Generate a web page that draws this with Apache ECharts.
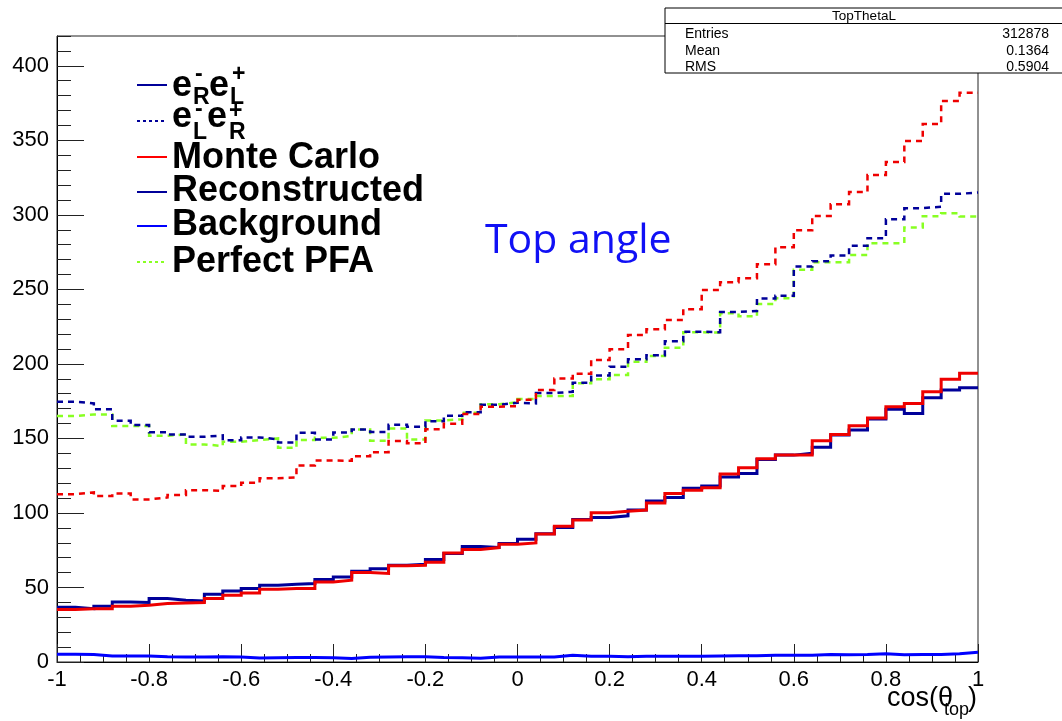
<!DOCTYPE html>
<html><head><meta charset="utf-8">
<script src="https://cdn.jsdelivr.net/npm/echarts@6/dist/echarts.min.js"></script>
<style>html,body{margin:0;padding:0;background:#fff}#c{width:1062px;height:721px}</style>
</head><body><div id="c"></div><script>
// bin left edges (50 bins of width 0.04 from -1 to 1)
const binLeft = [-1.00,-0.96,-0.92,-0.88,-0.84,-0.80,-0.76,-0.72,-0.68,-0.64,-0.60,-0.56,-0.52,-0.48,-0.44,-0.40,-0.36,-0.32,-0.28,-0.24,-0.20,-0.16,-0.12,-0.08,-0.04,0.00,0.04,0.08,0.12,0.16,0.20,0.24,0.28,0.32,0.36,0.40,0.44,0.48,0.52,0.56,0.60,0.64,0.68,0.72,0.76,0.80,0.84,0.88,0.92,0.96];
const xUpper = 1.0;
// e-_R e+_L : solid
const mcRL   = [35.2,35.8,35.8,37.4,38.1,39.2,39.6,39.9,42.6,44.8,46.3,48.8,49.3,49.3,53.7,54.9,60.0,59.4,64.5,64.9,67.0,73.2,75.5,76.8,79.0,79.9,85.8,91.1,95.2,100.1,101.2,101.9,106.6,113.1,115.3,116.9,126.1,130.3,136.3,138.8,138.8,148.4,152.7,158.5,163.7,171.3,173.5,181.3,189.7,193.7];
const recoRL = [36.7,35.8,37.4,40.3,39.9,42.6,41.4,41.0,45.5,47.7,49.3,51.5,52.2,52.6,55.3,57.1,60.9,62.5,64.9,65.6,68.8,72.8,77.5,76.8,79.5,82.4,86.0,90.3,95.6,97.0,98.1,101.9,108.1,110.4,116.5,118.0,124.2,126.5,135.9,138.8,140.0,144.0,152.3,155.6,163.0,169.5,166.8,177.3,182.5,184.0];
const bkgRL  = [5.2,5.0,4.0,4.0,4.0,3.5,3.4,3.4,3.5,3.3,2.7,2.8,3.0,3.0,2.8,2.3,3.2,3.3,3.5,3.5,3.0,2.8,2.5,3.3,3.3,3.3,3.3,4.5,3.8,3.8,3.6,3.8,3.8,3.8,3.9,4.0,4.2,4.2,4.5,4.5,4.5,5.0,4.8,5.0,5.5,4.8,5.0,5.0,5.6,6.5];
// e-_L e+_R : dashed
const mcLR   = [112.6,113.8,111.3,113.1,109.1,110.4,112.0,115.3,114.8,118.0,120.2,123.2,123.8,131.9,135.2,135.0,138.1,140.8,148.2,146.7,156.1,159.8,166.4,171.3,171.7,176.0,182.5,190.2,193.4,202.6,209.8,219.4,223.2,229.5,236.7,249.6,254.8,257.5,266.9,278.3,289.7,299.3,307.2,315.4,326.7,335.4,349.5,360.9,376.4,381.9];
const recoLR = [174.6,173.5,169.5,161.9,159.0,154.1,152.7,151.1,152.0,148.7,150.7,149.4,147.3,153.8,149.3,154.0,156.0,154.3,159.2,157.8,161.6,165.2,167.5,172.6,173.9,173.5,180.5,181.3,187.4,192.3,198.1,203.1,205.8,215.2,221.6,221.2,234.9,235.5,243.8,245.8,265.3,268.9,272.7,279.2,284.3,297.1,304.5,305.4,314.1,315.0];
const pfaLR  = [165.0,166.1,166.1,158.3,158.3,151.8,152.7,146.0,144.9,147.8,148.9,150.0,143.7,148.9,150.4,151.6,156.0,148.4,156.7,149.3,162.1,162.8,167.2,172.9,174.2,176.5,178.4,178.5,187.0,189.7,192.5,201.5,205.3,210.9,221.2,221.0,234.0,231.9,240.2,244.1,263.1,268.2,268.2,273.1,281.0,281.0,291.5,299.1,301.1,298.9];

const statsTitle = 'TopThetaL';
const statsLabels = ['Entries','Mean','RMS'];
const statsValues = ['312878','0.1364','0.5904'];

function hist(vals){
  const d = binLeft.map((x,i)=>[x, vals[i]]);
  d.push([xUpper, vals[vals.length-1]]);
  return d;
}
const NAVY='#000099', RED='#ee0000', BLUE='#0000ff', GREEN='#88ff22';
const FONT='"Liberation Sans", Arial, Helvetica, sans-serif';
function ser(name, vals, color, dashed, w){
  return {name, type:'line', step:'end', data:hist(vals), showSymbol:false, symbol:'none',
    lineStyle:{color, width:w, type: dashed ? [6,5] : 'solid', cap:'butt', join:'miter'},
    itemStyle:{color}, animation:false, silent:true, z: dashed?3:2};
}
function txt(x,y,text,font,fill,align,valign,z){
  return {type:'text', x, y, z: z||100, silent:true,
    style:{text, font, fill, align:align||'left', verticalAlign:valign||'middle', textAlign:align||'left', textVerticalAlign:valign||'middle'}};
}
function seg(x1,y1,x2,y2,color,w,dash){
  return {type:'line', z:100, silent:true, shape:{x1,y1,x2,y2}, style:{stroke:color, lineWidth:w, lineDash:dash||null}};
}
const LB = 'bold 36px '+FONT, LS = 'bold 23px '+FONT;
const graphics = [
  // stats box
  {type:'rect', z:90, silent:true, shape:{x:665,y:8,width:420,height:65}, style:{fill:'#fff', stroke:'#000', lineWidth:1}},
  seg(665,23.5,1062,23.5,'#000',1),
  txt(864,16,statsTitle,'13.5px '+FONT,'#000','center'),
  txt(685,34.5,statsLabels[0],'14px '+FONT,'#000','left'),
  txt(685,51,statsLabels[1],'14px '+FONT,'#000','left'),
  txt(685,67.5,statsLabels[2],'14px '+FONT,'#000','left'),
  txt(1049,34.5,statsValues[0],'14px '+FONT,'#000','right'),
  txt(1049,51,statsValues[1],'14px '+FONT,'#000','right'),
  txt(1049,67.5,statsValues[2],'14px '+FONT,'#000','right'),
  // legend lines
  seg(137,85,167,85,NAVY,2),
  seg(137,121,167,121,NAVY,2,[3,3]),
  seg(137,157,167,157,'#ff0000',2),
  seg(137,192,167,192,NAVY,2),
  seg(137,226,167,226,BLUE,2),
  seg(137,262,167,262,GREEN,2,[3,3]),
  // legend row 1: e-_R e+_L
  txt(172,86,'e',LB,'#000','left'),
  txt(195,75,'-',LS,'#000','left'),
  txt(193,98,'R',LS,'#000','left'),
  txt(209,86,'e',LB,'#000','left'),
  txt(232,75,'+',LS,'#000','left'),
  txt(230,98,'L',LS,'#000','left'),
  // legend row 2: e-_L e+_R
  txt(172,117,'e',LB,'#000','left'),
  txt(195,110,'-',LS,'#000','left'),
  txt(193,133,'L',LS,'#000','left'),
  txt(207,117,'e',LB,'#000','left'),
  txt(229,112,'+',LS,'#000','left'),
  txt(229,133,'R',LS,'#000','left'),
  // legend texts
  txt(172,158,'Monte Carlo',LB,'#000','left'),
  txt(172,191,'Reconstructed',LB,'#000','left'),
  txt(172,225,'Background',LB,'#000','left'),
  txt(172,262,'Perfect PFA',LB,'#000','left'),
  // annotation
  txt(485,241,'Top angle','41px "Open Sans", sans-serif','#1010f5','left'),
  // axis title cos(theta_top)
  txt(977,699,')','27px '+FONT,'#000','right'),
  txt(969,710,'top','18px '+FONT,'#000','right'),
  txt(953,699,'cos(θ','27px '+FONT,'#000','right')
];

const chart = echarts.init(document.getElementById('c'), null, {renderer:'canvas'});
chart.setOption({
  animation:false,
  backgroundColor:'#fff',
  grid:{left:57, right:84, top:36, bottom:59, containLabel:false, outerBoundsMode:'none', show:true, borderColor:'#222', borderWidth:1, backgroundColor:'transparent'},
  xAxis:{type:'value', min:-1, max:1, interval:0.2,
    axisLine:{show:true, onZero:false, lineStyle:{color:'#000', width:1}},
    axisTick:{show:true, inside:true, length:18, lineStyle:{color:'#222', width:1}},
    minorTick:{show:true, splitNumber:4, length:8, lineStyle:{color:'#222', width:1}},
    splitLine:{show:false}, minorSplitLine:{show:false},
    axisLabel:{color:'#000', fontSize:22, fontFamily:FONT, margin:7,
      formatter:v=>String(Math.round(v*10)/10)}},
  yAxis:[
    {type:'value', min:0, max:420, interval:50, position:'left',
      axisLine:{show:true, onZero:false, lineStyle:{color:'#000', width:1}},
      axisTick:{show:true, inside:true, length:27, lineStyle:{color:'#222', width:1}},
      splitLine:{show:false},
      axisLabel:{color:'#000', fontSize:22, fontFamily:FONT, margin:8, showMaxLabel:false}},
    {type:'value', min:0, max:420, interval:10, position:'left', offset:0,
      axisLine:{show:false, onZero:false},
      axisTick:{show:true, inside:true, length:14, lineStyle:{color:'#222', width:1}},
      splitLine:{show:false}, axisLabel:{show:false}}
  ],
  series:[
    ser('Background', bkgRL, BLUE, false, 3),
    ser('Reconstructed e-R e+L', recoRL, NAVY, false, 3),
    ser('Monte Carlo e-R e+L', mcRL, RED, false, 3),
    ser('Perfect PFA e-L e+R', pfaLR, GREEN, true, 2.5),
    ser('Reconstructed e-L e+R', recoLR, NAVY, true, 2.5),
    ser('Monte Carlo e-L e+R', mcLR, RED, true, 2.5)
  ],
  graphic:{elements:graphics}
});
</script></body></html>
